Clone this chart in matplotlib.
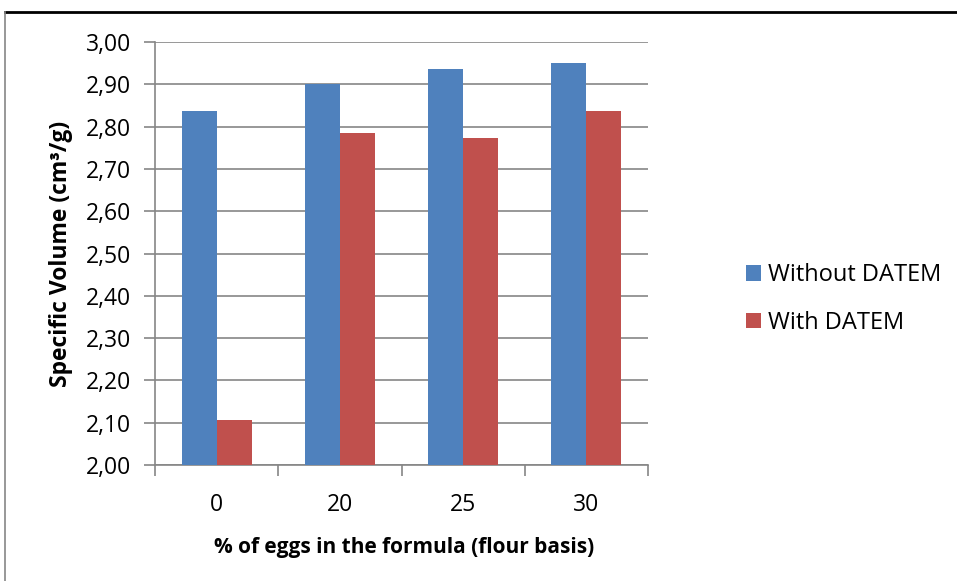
import numpy as np
import matplotlib.pyplot as plt
from matplotlib.lines import Line2D

categories = ['0', '20', '25', '30']
without_datem = [2.837, 2.900, 2.936, 2.950]
with_datem = [2.106, 2.786, 2.773, 2.837]
series_names = ['Without DATEM', 'With DATEM']
yticks = [2.0, 2.1, 2.2, 2.3, 2.4, 2.5, 2.6, 2.7, 2.8, 2.9, 3.0]

plt.rcParams['font.family'] = ['Open Sans', 'DejaVu Sans']

fig = plt.figure(figsize=(9.57, 5.81), dpi=100)
ax = fig.add_axes([155/957, 1-465/581, (648-155)/957, (465-42)/581])

x = np.arange(len(categories))
w = 0.284
ax.bar(x - w/2, without_datem, w, color='#4f81bd', label=series_names[0], zorder=3)
ax.bar(x + w/2, with_datem, w, color='#c0504d', label=series_names[1], zorder=3)

ax.set_xlim(-0.5, len(categories) - 0.5)
ax.set_ylim(2.0, 3.0)
ax.set_yticks(yticks)
ax.set_yticklabels([f'{v:.2f}'.replace('.', ',') for v in yticks])
ax.set_xticks(x)
ax.set_xticklabels(categories)
# category separators as minor ticks
ax.set_xticks(np.arange(-0.5, len(categories), 1), minor=True)
ax.tick_params(axis='x', which='major', length=0, pad=20, labelsize=16.5)
ax.tick_params(axis='x', which='minor', length=8, color='#868686', width=1.2)
ax.tick_params(axis='y', length=8, color='#868686', width=1.2, pad=9, labelsize=16.5)

ax.grid(axis='y', color='#868686', linewidth=1.2, zorder=0)
for s in ['top', 'right']:
    ax.spines[s].set_visible(False)
for s in ['left', 'bottom']:
    ax.spines[s].set_color('#868686')
    ax.spines[s].set_linewidth(1.2)

ax.set_ylabel('Specific Volume (cm³/g)', fontsize=16.5, fontweight='bold', va='center')
ax.set_xlabel('% of eggs in the formula (flour basis)', fontsize=15, fontweight='bold', va='center')
ax.yaxis.set_label_coords((61-155)/493, 0.5)
ax.xaxis.set_label_coords(0.505, (465-548)/423)

ax.legend(loc='center left', bbox_to_anchor=(1.199, 0.392), frameon=False, fontsize=17,
          borderpad=0, borderaxespad=0, handlelength=0.63, handleheight=0.63,
          handletextpad=0.3, labelspacing=1.0)

# outer chart border (partially visible)
fig.add_artist(Line2D([5/957, 1], [1-12/581, 1-12/581], color='black', linewidth=2))
fig.add_artist(Line2D([5/957, 5/957], [0, 1-12/581], color='#868686', linewidth=1.2))

fig.savefig('out.png', dpi=100)
